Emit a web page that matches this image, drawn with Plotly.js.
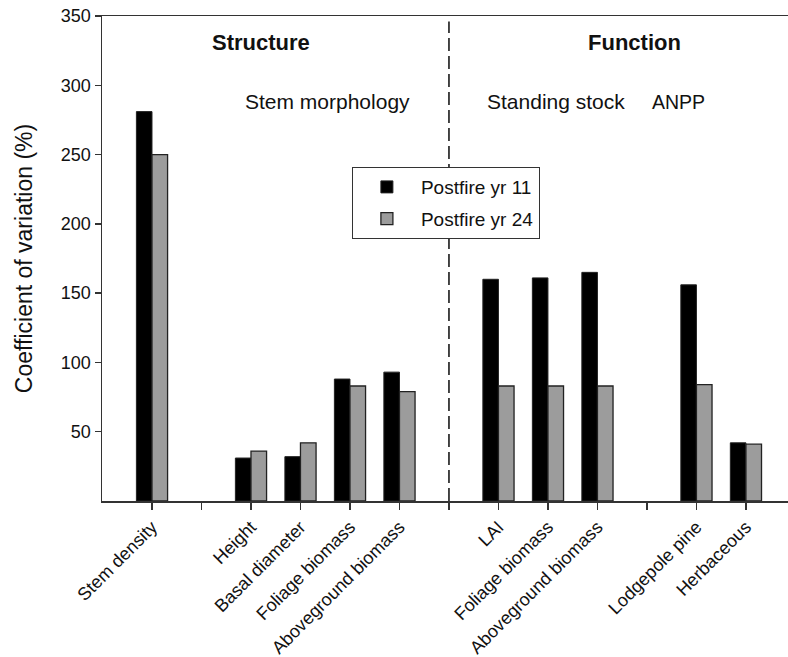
<!DOCTYPE html>
<html>
<head>
<meta charset="utf-8">
<script src="https://cdn.plot.ly/plotly-3.0.1.min.js"></script>
<style>html,body{margin:0;padding:0;background:#fff;}</style>
</head>
<body>
<div id="chart" style="width:788px;height:657px;"></div>
<script>
// Category slots (empty strings are gaps between groups)
const slots = [0,1,2,3,4,5,6,7,8,9,10,11,12];
const tickLabels = ["Stem density","","Height","Basal diameter","Foliage biomass","Aboveground biomass","","LAI","Foliage biomass","Aboveground biomass","","Lodgepole pine","Herbaceous"];
const barSlots = [0,2,3,4,5,7,8,9,11,12];
const yr11 = [281,31,32,88,93,160,161,165,156,42];
const yr24 = [250,36,42,83,79,83,83,83,84,41];
const seriesNames = ["Postfire yr 11","Postfire yr 24"];
const dividerSlot = 6;
const groupLabels = [
  {text:"<b>Structure</b>", x:2.2, y:331, size:22},
  {text:"<b>Function</b>", x:9.75, y:331, size:22},
  {text:"Stem morphology", x:3.55, y:288, size:21},
  {text:"Standing stock", x:8.17, y:288, size:21},
  {text:"ANPP", x:10.63, y:288, size:19.5}
];

const font = "Liberation Sans, Arial, sans-serif";
const axisColor = "#333";

const traces = [
  {type:"bar", x:barSlots, y:yr11, name:seriesNames[0], legendgroup:"a",
   marker:{color:"#000000", line:{color:"#222", width:1}}},
  {type:"bar", x:barSlots, y:yr24, name:seriesNames[1], legendgroup:"b",
   marker:{color:"#9c9c9c", line:{color:"#222", width:1.3}}}
];

const layout = {
  width:788, height:657,
  margin:{l:102, r:0, t:16, b:156},
  paper_bgcolor:"#fff", plot_bgcolor:"#fff",
  font:{family:font, color:"#111", size:18},
  barmode:"group", bargap:0.37, bargroupgap:0,
  showlegend:true,
  legend:{x:0.364, y:0.689, xanchor:"left", yanchor:"top",
          bgcolor:"#fff", bordercolor:"#333", borderwidth:1.2, tracegroupgap:4,
          font:{family:font, size:19, color:"#111"}, itemwidth:58},
  xaxis:{range:[-1.01,12.85], tickmode:"array", tickvals:slots, ticktext:tickLabels,
         tickangle:-45, ticks:"outside", ticklen:7, tickcolor:axisColor, tickwidth:1.3,
         showline:true, linecolor:axisColor, linewidth:1.5, mirror:true,
         showgrid:false, zeroline:false, tickfont:{family:font, size:18, color:"#111"}},
  yaxis:{range:[0,350], tickmode:"array", tickvals:[50,100,150,200,250,300,350],
         ticks:"outside", ticklen:6, tickcolor:axisColor, tickwidth:1.3,
         showline:true, linecolor:axisColor, linewidth:1.5,
         showgrid:false, zeroline:false, tickfont:{family:font, size:18, color:"#111"},
         title:{text:"Coefficient of variation (%)", font:{family:font, size:23, color:"#111"}, standoff:22}},
  shapes:[{type:"line", xref:"x", yref:"y", x0:dividerSlot, x1:dividerSlot, y0:0, y1:346,
           line:{color:axisColor, width:1.8, dash:"13px,5px"}}],
  annotations: groupLabels.map(g => ({xref:"x", yref:"y", x:g.x, y:g.y, text:g.text,
           showarrow:false, font:{family:font, size:g.size, color:"#111"}}))
};

Plotly.newPlot("chart", traces, layout, {displayModeBar:false, staticPlot:true});
</script>
</body>
</html>
